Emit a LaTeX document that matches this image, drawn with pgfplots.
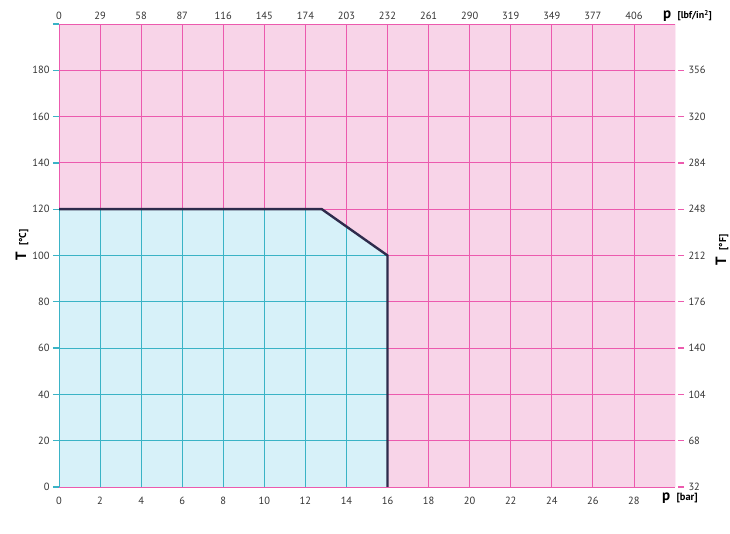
\documentclass[border=0pt]{standalone}
\usepackage{fontspec}
\setmainfont{PT Sans}
\usepackage{pgfplots}
\pgfplotsset{compat=1.18}
\definecolor{pinkbg}{HTML}{F8D4E8}
\definecolor{pinkgrid}{HTML}{EC5AAE}
\definecolor{cyanbg}{HTML}{D7F1F9}
\definecolor{cyangrid}{HTML}{3AB3C6}
\definecolor{outline}{HTML}{2E2B4C}
\definecolor{labelgray}{HTML}{333333}

\begin{document}
\begin{tikzpicture}
\pgfplotsset{
  every axis/.append style={
    scale only axis, width=616bp, height=463bp,
    xmin=0, xmax=30, ymin=0, ymax=200,
    axis line style={draw=none},
    tick label style={font=\fontsize{10.5}{12}\selectfont, text=labelgray},
    /pgf/number format/assume math mode=true,
    tick align=outside, major tick length=6bp,
    xtick style={draw=none},
  }
}
% main axis: bar and degrees C
\begin{axis}[
  name=main,
  axis background/.style={fill=pinkbg},
  grid=major,
  major grid style={pinkgrid, line width=0.8bp},
  xtick={0,2,...,28},
  ytick={0,20,...,200},
  yticklabels={0,20,40,60,80,100,120,140,160,180,{}},
  ytick style={draw=cyangrid, line width=1.3bp},
  axis x line*=bottom, axis y line*=left,
  xticklabel style={yshift=-1bp},
]
  \draw[pinkgrid, line width=0.8bp] (rel axis cs:0,0) rectangle (rel axis cs:1,1);
  % safe operating region
  \addplot[fill=cyanbg, draw=none] coordinates {(0,0) (0,120) (12.8,120) (16,100) (16,0)} -- cycle;
  \pgfplotsinvokeforeach{0,2,4,6,8,10,12}{
    \draw[cyangrid, line width=0.8bp] (axis cs:#1,0) -- (axis cs:#1,120);
  }
  \draw[cyangrid, line width=0.8bp] (axis cs:14,0) -- (axis cs:14,112.5);
  \pgfplotsinvokeforeach{0,20,40,60,80,100}{
    \draw[cyangrid, line width=0.8bp] (axis cs:0,#1) -- (axis cs:16,#1);
  }
  \addplot[outline, line width=2.4bp, line join=miter] coordinates {(0,120) (12.8,120) (16,100) (16,0)};
\end{axis}
% second axis: psi and degrees F
\begin{axis}[
  axis x line*=top, axis y line*=right,
  xtick={0,2,...,28},
  xticklabels={0,29,58,87,116,145,174,203,232,261,290,319,349,377,406},
  xticklabel style={yshift=-5bp},
  ytick={0,20,...,180},
  yticklabels={32,68,104,140,176,212,248,284,320,356},
  yticklabel style={xshift=4bp},
  ytick style={draw=pinkgrid, line width=1.3bp, xshift=3bp},
]
\end{axis}
\node[anchor=base west, inner sep=0pt] at ([xshift=-13bp, yshift=-13bp]main.south east)
  {\fontsize{15}{15}\selectfont\bfseries p\, \fontsize{10.5}{10.5}\selectfont [bar]};
\node[anchor=base west, inner sep=0pt] at ([xshift=-12bp, yshift=5bp]main.north east)
  {\fontsize{15}{15}\selectfont\bfseries p\, \fontsize{10}{10}\selectfont [lbf/in\textsuperscript{2}]};
\node[rotate=90, inner sep=0pt] at ([xshift=-37bp, yshift=242bp]main.south west)
  {\fontsize{15}{15}\selectfont\bfseries T\, \fontsize{10}{10}\selectfont [°C]};
\node[rotate=90, inner sep=0pt] at ([xshift=47bp, yshift=237bp]main.south east)
  {\fontsize{15}{15}\selectfont\bfseries T\, \fontsize{10}{10}\selectfont [°F]};
\pgfresetboundingbox
\path ([xshift=-59bp, yshift=-47bp]main.south west) rectangle ([xshift=55bp, yshift=24bp]main.north east);
\end{tikzpicture}
\end{document}
